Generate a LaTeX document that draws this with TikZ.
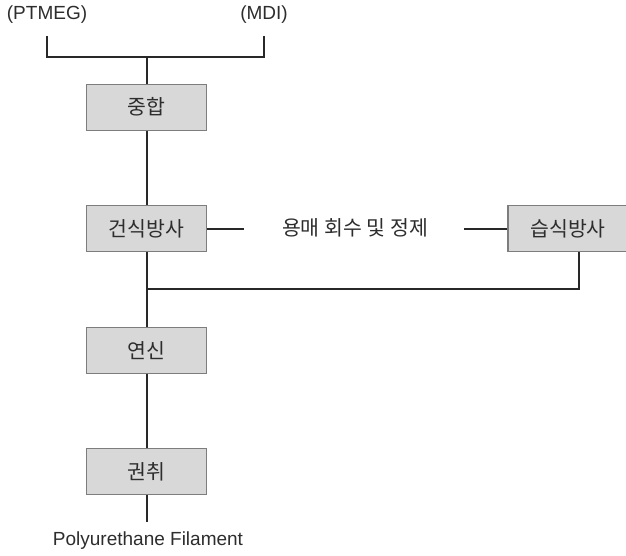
\documentclass[tikz,border=0pt]{standalone}
\usepackage{fontspec}
\setmainfont{Liberation Sans}
\newfontfamily\kr{Noto Sans CJK KR}
\usetikzlibrary{positioning}
\definecolor{boxgray}{RGB}{216,216,216}
\definecolor{edgegray}{RGB}{125,125,125}
\definecolor{linegray}{RGB}{40,40,40}
\definecolor{textgray}{RGB}{45,45,45}

\begin{document}
\begin{tikzpicture}[x=1pt,y=-1pt,line width=2pt,draw=linegray,node distance=121.5pt,
	main node/.style={rectangle,draw=edgegray,line width=1.2pt,fill=boxgray,minimum width=120pt,minimum height=46pt,inner sep=0pt,text=textgray,font=\kr\fontsize{20.5}{22}\selectfont},
	label node/.style={inner sep=0pt,text=textgray,font=\fontsize{19}{21}\selectfont}]
	\useasboundingbox (0,0) rectangle (626,555);
	
	\node[label node] (A) at (47,15) {(PTMEG)};
	\node[label node] (B) at (264,15) {(MDI)};
	
	\node[main node] (1) at (146.5,107.2) {중합};
	\node[main node] (2) [below of=1] {건식방사};
	\node[main node] (3) [below of=2] {연신};
	\node[main node] (4) [below of=3] {권취};
	\node[main node] (5) at (568,228.7) {습식방사};
	
	\node[label node,font=\kr\fontsize{20.5}{22}\selectfont] (C) at (355,228) {용매 회수 및 정제};
	\node[label node] (D) at (148,541) {Polyurethane Filament};
	
	\coordinate (j1) at (146.5,57);
	\coordinate (j2) at (146.5,289);
	\coordinate (w) at (579.3,289);
	\coordinate (e) at (146.5,521.7);
	\coordinate (l1) at (244,228.7);
	\coordinate (l2) at (464,228.7);
	
	\draw ([yshift=-11pt]A.south) |- (j1) -| ([yshift=-11pt]B.south);
	\draw (j1) -- (1);
	\draw (1) -- (2);
	\draw (2) -- (3);
	\draw (3) -- (4);
	\draw (4) -- (e);
	\draw (2.east) -- (l1);
	\draw (l2) -- (5.west);
	\draw (w |- 5.south) -- (w) -- (j2);
\end{tikzpicture}
\end{document}
